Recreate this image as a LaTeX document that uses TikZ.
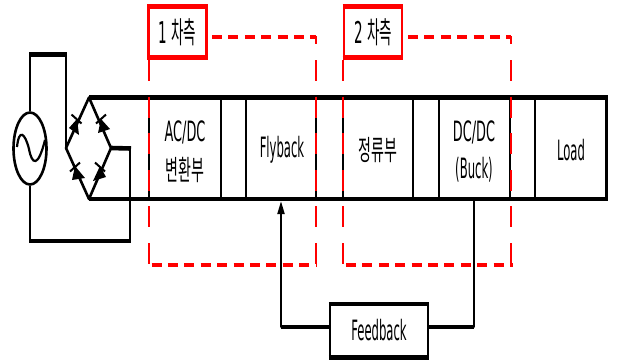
\documentclass[tikz,border=0pt]{standalone}
\usetikzlibrary{shapes.geometric}
\usepackage{fontspec}
\setmainfont{DejaVu Sans}
\newfontfamily\krfont{Noto Sans CJK KR}
\newcommand{\narrowtext}[1]{\scalebox{0.46}[1]{#1}}
\newcommand{\slimtext}[1]{\scalebox{0.415}[1]{#1}}
\newcommand{\kortext}[1]{\scalebox{0.5}[1]{\krfont #1}}
\tikzset{
 vw/.style={line width=2.3pt,black},
 hw/.style={line width=4.6pt,black},
 wire/.style={line width=2.6pt,black,line join=round},
 redv/.style={red,line width=2.8pt,dash pattern=on 21pt off 15.6pt},
 redh/.style={red,line width=4.4pt,dash pattern=on 10pt off 6.4pt},
 redsolidh/.style={red,line width=4.4pt},
 redsolidv/.style={red,line width=2.8pt},
 lab/.style={inner sep=0pt,align=center,font=\fontsize{28pt}{38pt}\selectfont},
 toplab/.style={draw=none,inner sep=0pt,font=\fontsize{30pt}{34pt}\selectfont},
}
\begin{document}
\begin{tikzpicture}[x=1pt,y=-1pt]
\useasboundingbox (0,0) rectangle (617,360);
\coordinate (tl) at (89,97.5); \coordinate (tr) at (608,97.5);
\coordinate (bl) at (89,199); \coordinate (br) at (608,199);
\coordinate (dl) at (66,148); \coordinate (dr) at (111,148);
% source
\node[draw,line width=2.6pt,ellipse,minimum width=33pt,minimum height=72pt,inner sep=0pt] (src) at (30,148.5) {};
\draw[line width=2.2pt] (17,147) .. controls (19,128) and (25,133) .. (29,149) .. controls (32,165) and (38,168) .. (45,140);
% input wires
\draw[vw] (src.north) -- (30,54.5);
\draw[hw] (29,54.5) -- (67,54.5);
\draw[vw] (66,54.5) -- (dl);
\draw[vw] (src.south) -- (30,241);
\draw[hw] (29,241) -- (131,241);
\draw[vw] (130,241) -- (130,148.5);
\draw[hw] (131,148.5) -- (dr);
% bridge
\draw[wire] (dl) -- (tl) -- (dr) -- (bl) -- cycle;
% diodes
\fill[black] (77,119) -- (69,128) -- (79,135) -- cycle;
\draw[line width=2pt] (71.5,114.5) -- (81.5,123.5);
\fill[black] (101,119) -- (98,133) -- (110,129) -- cycle;
\draw[line width=2pt] (96,123.5) -- (106,114.5);
\fill[black] (75,166) -- (72,180) -- (85,178) -- cycle;
\draw[line width=2pt] (70,171.5) -- (80,162.5);
\fill[black] (100,166) -- (93,181) -- (106,177) -- cycle;
\draw[line width=2pt] (95,162.5) -- (105,171.5);
% rails
\draw[hw] (tl) -- (tr);
\draw[hw] (bl) -- (br);
% blocks
\foreach \x in {149,221,246,316,343,413,439,510,535,606.5}{\draw[vw] (\x,97.5) -- (\x,199);}
\node[lab] (ac) at (185,132) {\narrowtext{AC/DC}};
\node[lab] (acb) at (185,170) {\kortext{변환부}};
\node[lab] (fly) at (282,150) {\slimtext{Flyback}};
\node[lab] (rec) at (378,150) {\kortext{정류부}};
\node[lab] (dc) at (474,132) {\narrowtext{DC/DC}};
\node[lab] (dcb) at (474,170) {\slimtext{(Buck)}};
\node[lab] (load) at (571,150) {\slimtext{Load}};
% feedback
\node[draw,line width=2.4pt,minimum width=98pt,minimum height=51pt,inner sep=0pt,font=\fontsize{28pt}{30pt}\selectfont] (fb) at (379,330.5) {\slimtext{Feedback}};
\draw[hw] (fb.north west) -- (fb.north east);
\draw[hw] (fb.south west) -- (fb.south east);
\coordinate (fbin) at (281,201.5);
\coordinate (fbout) at (474,201);
\draw[wire] (fb.west |- 0,327) -- (281,327) -- (281,212);
\draw[hw,line width=4pt] (fb.west |- 0,327) -- (281,327);
\fill[black] (fbin) -- (277.2,214) -- (284.8,214) -- cycle;
\draw[wire] (fb.east |- 0,327) -- (474,327) -- (fbout);
\draw[hw,line width=4pt] (fb.east |- 0,327) -- (474,327);
% red dashed frames
\draw[redv] (149,60) -- (149,265);
\draw[redv] (316,60) -- (316,265);
\draw[redv] (343,60) -- (343,265);
\draw[redv] (511,60) -- (511,265);
\draw[redh] (212,37) -- (316,37);
\draw[redh] (408,37) -- (511,37);
\draw[redh] (151.5,265) -- (316,265);
\draw[redh] (346,265) -- (513,265);
\draw[redsolidv] (316,36) -- (316,44);
\draw[redsolidv] (511,36) -- (511,44);
% side labels
\node[draw=red,line width=2.8pt,minimum width=58pt,minimum height=49pt,inner sep=0pt] (s1) at (177.5,32) {};
\node[toplab] (s1t) at (177.5,32) {\scalebox{0.45}[1]{1 {\krfont 차측}}};
\draw[redsolidh] (s1.north west) -- (s1.north east);
\draw[redsolidh] (s1.south west) -- (s1.south east);
\node[draw=red,line width=2.8pt,minimum width=58pt,minimum height=49pt,inner sep=0pt] (s2) at (373,32) {};
\node[toplab] (s2t) at (373,32) {\scalebox{0.45}[1]{2 {\krfont 차측}}};
\draw[redsolidh] (s2.north west) -- (s2.north east);
\draw[redsolidh] (s2.south west) -- (s2.south east);
\end{tikzpicture}
\end{document}
